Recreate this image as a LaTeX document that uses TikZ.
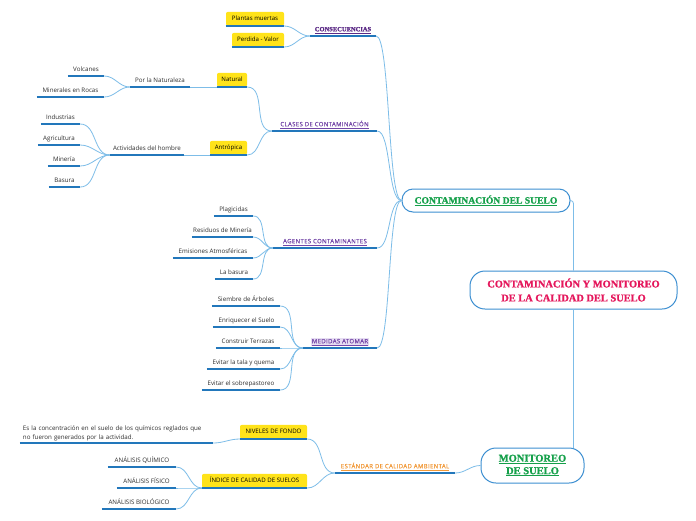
\documentclass[tikz,border=0pt]{standalone}
\usepackage{fontspec}
\setmainfont{Open Sans}
\newfontfamily\osans{Open Sans}
\newfontfamily\osansls[LetterSpace=6,FakeBold=0.4]{Open Sans}
\newfontfamily\tserif[FakeBold=1.2]{Liberation Serif}
\definecolor{linkc}{HTML}{7DBDE8}
\definecolor{ulc}{HTML}{2277BB}
\definecolor{nodeb}{HTML}{3D8FD1}
\definecolor{yel}{HTML}{FFE31A}
\definecolor{dpurp}{HTML}{5B2A86}
\definecolor{lpurp}{HTML}{7447A8}
\definecolor{lav}{HTML}{E6DDF2}
\definecolor{grn}{HTML}{15A04A}
\definecolor{crim}{HTML}{E5175C}
\definecolor{orng}{HTML}{F29A3A}
\definecolor{leafc}{HTML}{2E2E2E}
\tikzset{
  conn/.style={draw=linkc, line width=0.8pt},
  longconn/.style={conn, out=0, in=180, out distance=14pt, in distance=14pt},
  uline/.style={draw=ulc, line width=1.8pt},
  leaf/.style={anchor=south, minimum width=#1, inner xsep=0pt, inner ysep=3pt,
    text height=4.8pt, text depth=1.5pt, font=\osans\fontsize{6.2}{7}\selectfont, text=leafc},
  ybox/.style={anchor=south, minimum width=#1, minimum height=14pt, inner xsep=0pt, inner ysep=0pt,
    fill=yel, rounded corners=2pt, font=\osans\fontsize{6.1}{7}\selectfont, text=black,
    text height=4.6pt, text depth=1.4pt},
  ttl/.style={anchor=south, minimum width=#1, inner xsep=0pt, inner ysep=3pt,
    text height=4.8pt, text depth=1.5pt},
  sttl/.style={ttl=#1, font=\osansls\fontsize{6}{7}\selectfont},
  mainbox/.style={draw=nodeb, line width=1pt, fill=white, inner sep=0pt, align=center},
}
\begin{document}
\begin{tikzpicture}[x=1pt,y=-1pt]
\useasboundingbox[fill=white] (0,0) rectangle (696,520);

% main nodes
\node[mainbox, rounded corners=11pt, minimum width=168pt, minimum height=23pt,
  font=\tserif\bfseries\fontsize{9.6}{11}\selectfont, text=grn] (cds) at (486,200.5)
  {\underline{CONTAMINACIÓN DEL SUELO}};
\node[mainbox, rounded corners=15pt, minimum width=207pt, minimum height=38pt,
  font=\tserif\bfseries\fontsize{10.4}{14}\selectfont, text=crim] (center) at (573.5,290)
  {CONTAMINACIÓN Y MONITOREO\\DE LA CALIDAD DEL SUELO};
\node[mainbox, rounded corners=15pt, minimum width=103pt, minimum height=35pt,
  font=\tserif\bfseries\fontsize{10.5}{12.5}\selectfont, text=grn] (mon) at (532.5,465.5)
  {\underline{MONITOREO}\\\underline{DE SUELO}};

% branch titles
\node[ttl=66pt, font=\tserif\bfseries\fontsize{6.5}{7}\selectfont, text=dpurp] (cons) at (343,36) {\underline{CONSECUENCIAS}};
\node[sttl=105pt, text=lpurp] (cla) at (324.5,131) {\underline{CLASES DE CONTAMINACIÓN}};
\node[sttl=104pt, text=lpurp] (age) at (325,248) {\underline{AGENTES CONTAMINANTES}};
\node[sttl=74pt, text=lpurp] (med) at (340,348) {\fboxsep=0.6pt\colorbox{lav}{\underline{MEDIDAS ATOMAR}}};
\node[sttl=120pt, text=orng] (est) at (395,473) {\underline{ESTÁNDAR DE CALIDAD AMBIENTAL}};

% consecuencias
\node[ybox=58pt] (pm) at (255,26) {Plantas muertas};
\node[ybox=52pt] (pv) at (258,47) {Perdida - Valor};

% clases
\node[ybox=30pt] (nat) at (232,87) {Natural};
\node[leaf=60pt] (pln) at (160,87) {Por la Naturaleza};
\node[leaf=36pt] (vol) at (86,76) {Volcanes};
\node[leaf=67pt] (mir) at (70.5,97) {Minerales en Rocas};
\node[ybox=37pt] (ant) at (228.5,155) {Antrópica};
\node[leaf=74pt] (act) at (147,155) {Actividades del hombre};
\node[leaf=39pt] (ind) at (60.5,124) {Industrias};
\node[leaf=42pt] (agr) at (59,145) {Agricultura};
\node[leaf=32pt] (mia) at (64,166) {Minería};
\node[leaf=31pt] (bas) at (64.5,187) {Basura};

% agentes
\node[leaf=39pt] (pla) at (233.5,216) {Plagicidas};
\node[leaf=61pt] (res) at (222.5,237) {Residuos de Minería};
\node[leaf=80pt] (emi) at (213,258) {Emisiones Atmosféricas};
\node[leaf=38pt] (lab) at (234,279) {La basura};

% medidas
\node[leaf=68pt] (sie) at (246,306) {Siembre de Árboles};
\node[leaf=67pt] (enr) at (246.5,327) {Enriquecer el Suelo};
\node[leaf=64pt] (con) at (248,348) {Construir Terrazas};
\node[leaf=73pt] (evt) at (243.5,369) {Evitar la tala y quema};
\node[leaf=78pt] (evs) at (241,390) {Evitar el sobrepastoreo};

% estandar
\node[ybox=67pt] (niv) at (273.5,439) {NIVELES DE FONDO};
\node[anchor=south, text width=187pt, inner xsep=3pt, inner ysep=2pt, align=left,
  font=\osans\fontsize{6.2}{9}\selectfont, text=leafc] (conc) at (116.5,443)
  {Es la concentración en el suelo de los químicos reglados que\\no fueron generados por la actividad.};
\node[ybox=105pt] (icx) at (254.5,488) {ÍNDICE DE CALIDAD DE SUELOS};
\node[leaf=68pt] (aq) at (142,467) {ANÁLISIS QUÍMICO};
\node[leaf=59pt] (af) at (146.5,488) {ANÁLISIS FÍSICO};
\node[leaf=74pt] (ab) at (139,509) {ANÁLISIS BIOLÓGICO};

% underlines
\foreach \n in {cons,cla,age,med,est,pm,pv,nat,pln,vol,mir,ant,act,ind,agr,mia,bas,
  pla,res,emi,lab,sie,enr,con,evt,evs,niv,conc,icx,aq,af,ab}
  \draw[uline] (\n.south west) -- (\n.south east);

% connectors: center
\draw[conn, rounded corners=3pt] (cds.east) -| (center.north);
\draw[conn] (center.south) -- (center.south |- mon.north);
\draw[conn] (est.south east) to[out=0,in=180] (mon.west);

% connectors: to contaminacion del suelo
\foreach \n in {cons,cla,age,med}
  \draw[longconn] (\n.south east) to (cds.west);

% connectors: branches
\foreach \a/\b in {pm/cons,pv/cons,nat/cla,ant/cla,vol/pln,mir/pln,
  ind/act,agr/act,mia/act,bas/act,pla/age,res/age,emi/age,lab/age,
  sie/med,enr/med,con/med,evt/med,evs/med,niv/est,icx/est,aq/icx,af/icx,ab/icx}
  \draw[conn] (\a.south east) to[out=0,in=180] (\b.south west);
\draw[conn] (pln.south east) -- (nat.south west);
\draw[conn] (act.south east) -- (ant.south west);
\draw[conn] (conc.south east) to[out=0,in=180] (niv.south west);
\end{tikzpicture}
\end{document}
